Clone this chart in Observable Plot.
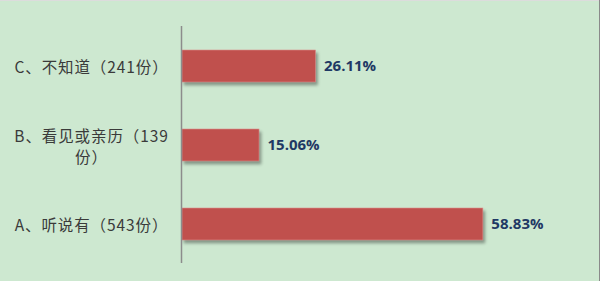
<!DOCTYPE html>
<html>
<head>
<meta charset="utf-8">
<script src="https://cdn.jsdelivr.net/npm/d3@7"></script>
<script src="https://cdn.jsdelivr.net/npm/@observablehq/plot@0.6"></script>
<style>
  html, body { margin: 0; padding: 0; background: #cde8d0; }
  #chart svg { display: block; box-shadow: inset -1px 0 #8a8a8a, inset 0 1px #dcdcdc; }
</style>
</head>
<body>
<div id="chart"></div>
<script>
// Survey answers, top to bottom
const categories = ["C、不知道（241份）", "B、看见或亲历（139\n份）", "A、听说有（543份）"];
const shares = [26.11, 15.06, 58.83];
const shareLabels = ["26.11%", "15.06%", "58.83%"];

const rows = categories.map((c, i) => ({category: c, share: shares[i], label: shareLabels[i]}));

const chart = Plot.plot({
  width: 600,
  height: 281,
  marginTop: 26,
  marginBottom: 18,
  marginLeft: 182,
  marginRight: 60,
  style: {background: "#cde8d0", fontFamily: "'Noto Sans CJK SC', 'Open Sans', sans-serif"},
  x: {domain: [0, 70], axis: null},
  y: {domain: categories, paddingInner: 0.6, paddingOuter: 0.3, label: null},
  marks: [
    Plot.barX(rows, {x: "share", y: "category", fill: "#c0504d", stroke: "#d98e8b", strokeWidth: 0.6}),
    Plot.ruleX([0], {stroke: "#8c8c8c", strokeWidth: 1.5, dx: -1}),
    Plot.axisY({
      tickSize: 0,
      tickPadding: 0,
      textAnchor: "middle",
      dx: -91,
      fontSize: 15.5,
      lineHeight: 1.4,
      fill: "#3a3a3a",
      label: null
    }),
    Plot.text(rows, {
      x: "share", y: "category", text: "label",
      textAnchor: "start", dx: 8,
      fill: "#1f3864", fontWeight: "bold", fontSize: 15,
      fontFamily: "'Open Sans', sans-serif"
    })
  ]
});

d3.select(chart).selectAll("g[aria-label='bar']")
  .style("filter", "drop-shadow(2px 3px 1.5px rgba(0,0,0,0.35))");
d3.select(chart).selectAll("g[aria-label='y-axis tick label']")
  .style("letter-spacing", "0.9px");

document.getElementById("chart").appendChild(chart);
</script>
</body>
</html>
